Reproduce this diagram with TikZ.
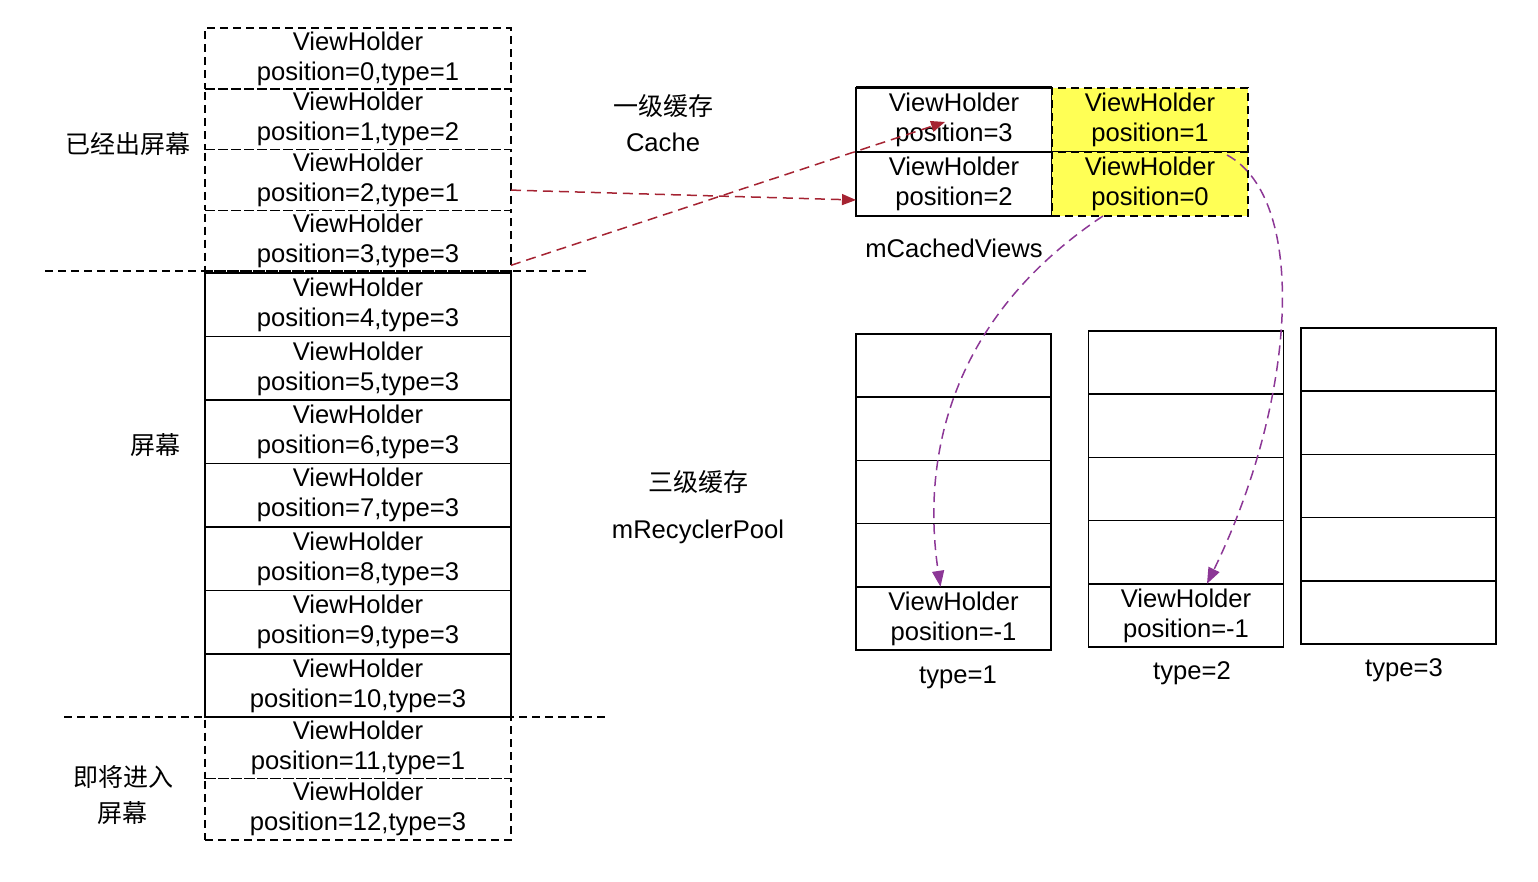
\documentclass[tikz,border=0pt]{standalone}
\usepackage{fontspec}
\setmainfont{Liberation Sans}
\newfontfamily\cjk{Noto Sans CJK SC}
\usetikzlibrary{positioning, arrows.meta, calc}
\definecolor{cacheyellow}{RGB}{255,255,85}
\definecolor{movered}{RGB}{165,35,50}
\definecolor{recyclepurple}{RGB}{140,55,150}

\begin{document}
\begin{tikzpicture}[
    x=0.5pt, y=-0.5pt, % one unit = one pixel of the reference
    font=\fontsize{12.8}{15}\selectfont,
    holder/.style={draw, line width=0.8pt, align=center, inner sep=0pt, outer sep=0pt, minimum width=153pt},
    goneholder/.style={holder, dash pattern=on 4pt off 2.5pt, minimum height=30.4pt},
    screenholder/.style={holder, minimum height=31.7pt},
    nextholder/.style={holder, dash pattern=on 4pt off 2.5pt, minimum height=30.75pt},
    cachebox/.style={draw, line width=0.8pt, align=center, inner sep=0pt, outer sep=0pt, minimum width=98pt, minimum height=32pt},
    cachedash/.style={cachebox, fill=cacheyellow, dash pattern=on 4pt off 2.5pt},
    poolcell/.style={draw, line width=0.8pt, align=center, inner sep=0pt, outer sep=0pt, minimum width=97.5pt, minimum height=31.6pt},
    screenline/.style={line width=0.8pt, dash pattern=on 4pt off 2.5pt},
    cnlabel/.style={font=\cjk\fontsize{12.5}{18}\selectfont, align=center},
    movearrow/.style={movered, line width=0.75pt, dash pattern=on 5pt off 3pt, -{Triangle[length=7pt, width=5.5pt]}},
    recyclearrow/.style={recyclepurple, line width=0.75pt, dash pattern=on 5pt off 3pt, -{Triangle[length=8pt, width=6pt]}}
]
\useasboundingbox (0,0) rectangle (1538,882);

% Left column: holders already scrolled out
\node (vh0) [goneholder] at (358,58.5) {ViewHolder\\position=0,type=1};
\node (vh1) [goneholder, below=0pt of vh0] {ViewHolder\\position=1,type=2};
\node (vh2) [goneholder, below=0pt of vh1] {ViewHolder\\position=2,type=1};
\node (vh3) [goneholder, below=0pt of vh2] {ViewHolder\\position=3,type=3};

% Holders on screen
\node (vh4) [screenholder, below=1pt of vh3] {ViewHolder\\position=4,type=3};
\node (vh5) [screenholder, below=0pt of vh4] {ViewHolder\\position=5,type=3};
\node (vh6) [screenholder, below=0pt of vh5] {ViewHolder\\position=6,type=3};
\node (vh7) [screenholder, below=0pt of vh6] {ViewHolder\\position=7,type=3};
\node (vh8) [screenholder, below=0pt of vh7] {ViewHolder\\position=8,type=3};
\node (vh9) [screenholder, below=0pt of vh8] {ViewHolder\\position=9,type=3};
\node (vh10) [screenholder, below=0pt of vh9] {ViewHolder\\position=10,type=3};

% Holders about to come in
\node (vh11) [nextholder, below=0pt of vh10] {ViewHolder\\position=11,type=1};
\node (vh12) [nextholder, below=0pt of vh11] {ViewHolder\\position=12,type=3};

% Screen borders
\draw[screenline] ($(vh3.south west)+(-160,0)$) -- ($(vh3.south east)+(79,0)$);
\draw[screenline] ($(vh10.south west)+(-141,0)$) -- ($(vh10.south east)+(94,0)$);

% Region labels
\node (out_label) [cnlabel] at (128,144) {已经出屏幕};
\node (screen_label) [cnlabel] at (155,445) {屏幕};
\node (next_label) [cnlabel] at (123,795) {即将进入\\屏幕};

% Level one cache
\node (cache_label) [cnlabel] at (663,106) {一级缓存};
\node (cache_name) at (663,142) {Cache};
\node (c3) [cachebox] at (954,120) {ViewHolder\\position=3};
\node (c2) [cachebox, below=0pt of c3] {ViewHolder\\position=2};
\node (c1) [cachedash, right=0pt of c3] {ViewHolder\\position=1};
\node (c0) [cachedash, below=0pt of c1] {ViewHolder\\position=0};
\draw[line width=1.5pt] (c3.north west) -- (c3.north east);
\node (cached_views) at (954,248) {mCachedViews};

% Level three cache
\node (pool_label) [cnlabel] at (698,482) {三级缓存};
\node (pool_name) at (698,532) {mRecyclerPool};

% type=1 column
\node (p1a) [poolcell] at (953.5,365.6) {};
\node (p1b) [poolcell, below=0pt of p1a] {};
\node (p1c) [poolcell, below=0pt of p1b] {};
\node (p1d) [poolcell, below=0pt of p1c] {};
\node (p1e) [poolcell, below=0pt of p1d] {ViewHolder\\position=-1};
\node (type1) at (958,677) {type=1};

% type=2 column
\node (p2a) [poolcell] at (1186,362.6) {};
\node (p2b) [poolcell, below=0pt of p2a] {};
\node (p2c) [poolcell, below=0pt of p2b] {};
\node (p2d) [poolcell, below=0pt of p2c] {};
\node (p2e) [poolcell, below=0pt of p2d] {ViewHolder\\position=-1};
\node (type2) at (1192,673) {type=2};

% type=3 column
\node (p3a) [poolcell] at (1398.5,359.6) {};
\node (p3b) [poolcell, below=0pt of p3a] {};
\node (p3c) [poolcell, below=0pt of p3b] {};
\node (p3d) [poolcell, below=0pt of p3c] {};
\node (p3e) [poolcell, below=0pt of p3d] {};
\node (type3) at (1404,670) {type=3};

% Holders moving into the cache
\draw[movearrow] ([yshift=-5pt]vh2.east) -- ([yshift=-8pt]c2.west);
\draw[movearrow] ([yshift=3pt]vh3.south east) -- ([xshift=-4.5pt, yshift=-1pt]c3.center);

% Holders moving on into the pool
\draw[recyclearrow] ([xshift=-23.5pt]c0.south) .. controls +(-150,100) and +(-20,-133) .. ([xshift=-6.5pt]p1e.north);
\draw[recyclearrow] ([xshift=-10.5pt, yshift=-1.5pt]c1.south east) .. controls +(83,45) and +(88,-180) .. ([xshift=10.5pt]p2e.north);

\end{tikzpicture}
\end{document}
